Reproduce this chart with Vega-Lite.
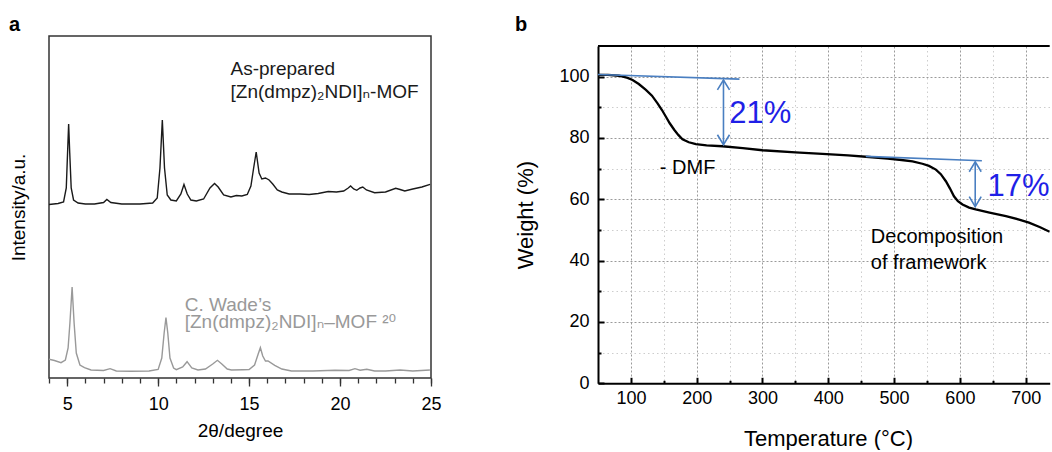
{
  "$schema": "https://vega.github.io/schema/vega-lite/v6.json",
  "padding": {"left": 8, "top": 14, "right": 0, "bottom": 0},
  "background": "white",
  "config": {
    "font": "Liberation Sans",
    "view": {"stroke": null},
    "axis": {"labelFont": "Liberation Sans", "titleFont": "Liberation Sans", "titleFontWeight": "normal", "labelColor": "black", "titleColor": "black", "labelOverlap": false, "labelBound": false}
  },
  "datasets": {
    "xrd": [
      {"sample": "As-prepared", "theta": 4.0, "intensity": 173.5},
      {"sample": "As-prepared", "theta": 4.5, "intensity": 174.5},
      {"sample": "As-prepared", "theta": 4.8, "intensity": 176},
      {"sample": "As-prepared", "theta": 4.95, "intensity": 190},
      {"sample": "As-prepared", "theta": 5.02, "intensity": 225},
      {"sample": "As-prepared", "theta": 5.08, "intensity": 254},
      {"sample": "As-prepared", "theta": 5.14, "intensity": 225},
      {"sample": "As-prepared", "theta": 5.22, "intensity": 190},
      {"sample": "As-prepared", "theta": 5.35, "intensity": 178},
      {"sample": "As-prepared", "theta": 5.6, "intensity": 175},
      {"sample": "As-prepared", "theta": 6.0, "intensity": 174},
      {"sample": "As-prepared", "theta": 6.5, "intensity": 174},
      {"sample": "As-prepared", "theta": 7.0, "intensity": 175.5},
      {"sample": "As-prepared", "theta": 7.18, "intensity": 178.5},
      {"sample": "As-prepared", "theta": 7.4, "intensity": 175.5},
      {"sample": "As-prepared", "theta": 8.0, "intensity": 174},
      {"sample": "As-prepared", "theta": 9.0, "intensity": 174},
      {"sample": "As-prepared", "theta": 9.7, "intensity": 175},
      {"sample": "As-prepared", "theta": 9.95, "intensity": 180},
      {"sample": "As-prepared", "theta": 10.1, "intensity": 210},
      {"sample": "As-prepared", "theta": 10.23, "intensity": 258},
      {"sample": "As-prepared", "theta": 10.35, "intensity": 210},
      {"sample": "As-prepared", "theta": 10.5, "intensity": 183},
      {"sample": "As-prepared", "theta": 10.7, "intensity": 178},
      {"sample": "As-prepared", "theta": 11.0, "intensity": 177},
      {"sample": "As-prepared", "theta": 11.25, "intensity": 184},
      {"sample": "As-prepared", "theta": 11.42, "intensity": 193.5},
      {"sample": "As-prepared", "theta": 11.6, "intensity": 184},
      {"sample": "As-prepared", "theta": 11.8, "intensity": 178},
      {"sample": "As-prepared", "theta": 12.1, "intensity": 177},
      {"sample": "As-prepared", "theta": 12.5, "intensity": 179},
      {"sample": "As-prepared", "theta": 12.85, "intensity": 190},
      {"sample": "As-prepared", "theta": 13.1, "intensity": 194.5},
      {"sample": "As-prepared", "theta": 13.3, "intensity": 191},
      {"sample": "As-prepared", "theta": 13.6, "intensity": 183},
      {"sample": "As-prepared", "theta": 14.0, "intensity": 181},
      {"sample": "As-prepared", "theta": 14.3, "intensity": 182.5},
      {"sample": "As-prepared", "theta": 14.6, "intensity": 182},
      {"sample": "As-prepared", "theta": 14.9, "intensity": 183.5},
      {"sample": "As-prepared", "theta": 15.1, "intensity": 192},
      {"sample": "As-prepared", "theta": 15.25, "intensity": 210},
      {"sample": "As-prepared", "theta": 15.39, "intensity": 226},
      {"sample": "As-prepared", "theta": 15.55, "intensity": 205},
      {"sample": "As-prepared", "theta": 15.7, "intensity": 199},
      {"sample": "As-prepared", "theta": 15.9, "intensity": 200},
      {"sample": "As-prepared", "theta": 16.1, "intensity": 198},
      {"sample": "As-prepared", "theta": 16.3, "intensity": 194},
      {"sample": "As-prepared", "theta": 16.55, "intensity": 188},
      {"sample": "As-prepared", "theta": 16.8, "intensity": 186},
      {"sample": "As-prepared", "theta": 17.2, "intensity": 184},
      {"sample": "As-prepared", "theta": 17.8, "intensity": 184},
      {"sample": "As-prepared", "theta": 18.3, "intensity": 183.5},
      {"sample": "As-prepared", "theta": 18.8, "intensity": 184.5},
      {"sample": "As-prepared", "theta": 19.35, "intensity": 186.5},
      {"sample": "As-prepared", "theta": 19.8, "intensity": 186},
      {"sample": "As-prepared", "theta": 20.2, "intensity": 187},
      {"sample": "As-prepared", "theta": 20.45, "intensity": 190},
      {"sample": "As-prepared", "theta": 20.58, "intensity": 192},
      {"sample": "As-prepared", "theta": 20.75, "intensity": 189},
      {"sample": "As-prepared", "theta": 20.92, "intensity": 187.7},
      {"sample": "As-prepared", "theta": 21.1, "intensity": 190},
      {"sample": "As-prepared", "theta": 21.25, "intensity": 191},
      {"sample": "As-prepared", "theta": 21.45, "intensity": 188},
      {"sample": "As-prepared", "theta": 21.9, "intensity": 185.3},
      {"sample": "As-prepared", "theta": 22.5, "intensity": 186},
      {"sample": "As-prepared", "theta": 23.06, "intensity": 189.7},
      {"sample": "As-prepared", "theta": 23.3, "intensity": 188.5},
      {"sample": "As-prepared", "theta": 23.56, "intensity": 187},
      {"sample": "As-prepared", "theta": 24.0, "intensity": 189},
      {"sample": "As-prepared", "theta": 24.5, "intensity": 191},
      {"sample": "As-prepared", "theta": 24.95, "intensity": 193.7},
      {"sample": "C. Wade", "theta": 4.0, "intensity": 18.7},
      {"sample": "C. Wade", "theta": 4.3, "intensity": 17.5},
      {"sample": "C. Wade", "theta": 4.66, "intensity": 15.3},
      {"sample": "C. Wade", "theta": 4.9, "intensity": 18},
      {"sample": "C. Wade", "theta": 5.05, "intensity": 30},
      {"sample": "C. Wade", "theta": 5.15, "intensity": 55},
      {"sample": "C. Wade", "theta": 5.27, "intensity": 91},
      {"sample": "C. Wade", "theta": 5.38, "intensity": 55},
      {"sample": "C. Wade", "theta": 5.5, "intensity": 25},
      {"sample": "C. Wade", "theta": 5.7, "intensity": 13},
      {"sample": "C. Wade", "theta": 5.95, "intensity": 10.3},
      {"sample": "C. Wade", "theta": 6.31, "intensity": 8},
      {"sample": "C. Wade", "theta": 7.0, "intensity": 7.5},
      {"sample": "C. Wade", "theta": 7.36, "intensity": 9.3},
      {"sample": "C. Wade", "theta": 7.7, "intensity": 7},
      {"sample": "C. Wade", "theta": 8.5, "intensity": 6.7},
      {"sample": "C. Wade", "theta": 9.5, "intensity": 7},
      {"sample": "C. Wade", "theta": 10.0, "intensity": 8.5},
      {"sample": "C. Wade", "theta": 10.2, "intensity": 20},
      {"sample": "C. Wade", "theta": 10.33, "intensity": 45},
      {"sample": "C. Wade", "theta": 10.43, "intensity": 60.3},
      {"sample": "C. Wade", "theta": 10.53, "intensity": 45},
      {"sample": "C. Wade", "theta": 10.65, "intensity": 20},
      {"sample": "C. Wade", "theta": 10.85, "intensity": 10},
      {"sample": "C. Wade", "theta": 11.0, "intensity": 8.3},
      {"sample": "C. Wade", "theta": 11.35, "intensity": 11},
      {"sample": "C. Wade", "theta": 11.59, "intensity": 16.3},
      {"sample": "C. Wade", "theta": 11.85, "intensity": 10},
      {"sample": "C. Wade", "theta": 12.19, "intensity": 8},
      {"sample": "C. Wade", "theta": 12.6, "intensity": 9},
      {"sample": "C. Wade", "theta": 13.0, "intensity": 14},
      {"sample": "C. Wade", "theta": 13.26, "intensity": 17.7},
      {"sample": "C. Wade", "theta": 13.5, "intensity": 14},
      {"sample": "C. Wade", "theta": 13.8, "intensity": 9},
      {"sample": "C. Wade", "theta": 14.03, "intensity": 8},
      {"sample": "C. Wade", "theta": 14.67, "intensity": 8.3},
      {"sample": "C. Wade", "theta": 15.0, "intensity": 8.5},
      {"sample": "C. Wade", "theta": 15.3, "intensity": 13},
      {"sample": "C. Wade", "theta": 15.5, "intensity": 24},
      {"sample": "C. Wade", "theta": 15.62, "intensity": 30.3},
      {"sample": "C. Wade", "theta": 15.75, "intensity": 22},
      {"sample": "C. Wade", "theta": 15.9, "intensity": 17},
      {"sample": "C. Wade", "theta": 16.04, "intensity": 17},
      {"sample": "C. Wade", "theta": 16.41, "intensity": 12.7},
      {"sample": "C. Wade", "theta": 16.8, "intensity": 9},
      {"sample": "C. Wade", "theta": 17.33, "intensity": 7},
      {"sample": "C. Wade", "theta": 18.5, "intensity": 7},
      {"sample": "C. Wade", "theta": 19.72, "intensity": 7.7},
      {"sample": "C. Wade", "theta": 20.5, "intensity": 7.5},
      {"sample": "C. Wade", "theta": 20.82, "intensity": 9.3},
      {"sample": "C. Wade", "theta": 21.1, "intensity": 7.8},
      {"sample": "C. Wade", "theta": 21.47, "intensity": 8.7},
      {"sample": "C. Wade", "theta": 21.9, "intensity": 7},
      {"sample": "C. Wade", "theta": 22.5, "intensity": 7},
      {"sample": "C. Wade", "theta": 23.3, "intensity": 8},
      {"sample": "C. Wade", "theta": 24.0, "intensity": 7},
      {"sample": "C. Wade", "theta": 24.94, "intensity": 8}
    ],
    "labelsA": [
      {"sample": "As-prepared", "theta": 13.98, "intensity": 302.7, "label": "As-prepared"},
      {"sample": "As-prepared", "theta": 13.98, "intensity": 280, "label": "[Zn(dmpz)₂NDI]ₙ-MOF"},
      {"sample": "C. Wade", "theta": 11.46, "intensity": 66.7, "label": "C. Wade’s"},
      {"sample": "C. Wade", "theta": 11.46, "intensity": 49.7, "label": "[Zn(dmpz)₂NDI]ₙ–MOF ²⁰"}
    ],
    "tga": [
      {"T": 50, "W": 100.6}, {"T": 65, "W": 100.6}, {"T": 82, "W": 100.3}, {"T": 95, "W": 99.6},
      {"T": 102.5, "W": 98.9}, {"T": 112, "W": 97.6}, {"T": 122.8, "W": 95.7}, {"T": 132, "W": 93.8},
      {"T": 140.5, "W": 91.3}, {"T": 147, "W": 89.2}, {"T": 153, "W": 87.0}, {"T": 159, "W": 84.8},
      {"T": 165.8, "W": 82.7}, {"T": 172, "W": 81.0}, {"T": 178.4, "W": 79.6}, {"T": 188, "W": 78.6},
      {"T": 198.8, "W": 78.0}, {"T": 215, "W": 77.6}, {"T": 239, "W": 77.3}, {"T": 270, "W": 76.7},
      {"T": 300, "W": 76.0}, {"T": 350, "W": 75.3}, {"T": 391, "W": 74.8}, {"T": 430, "W": 74.3},
      {"T": 462, "W": 73.8}, {"T": 490, "W": 73.3}, {"T": 508, "W": 72.9}, {"T": 528, "W": 72.4},
      {"T": 543, "W": 71.6}, {"T": 553, "W": 70.9}, {"T": 563.5, "W": 69.7}, {"T": 571, "W": 68.2},
      {"T": 578.7, "W": 65.9}, {"T": 585, "W": 63.5}, {"T": 591, "W": 61.0}, {"T": 597, "W": 59.4},
      {"T": 604, "W": 58.3}, {"T": 614, "W": 57.3}, {"T": 624, "W": 56.7}, {"T": 645, "W": 55.7},
      {"T": 670, "W": 54.5}, {"T": 690, "W": 53.4}, {"T": 705, "W": 52.4}, {"T": 722, "W": 50.9},
      {"T": 736.5, "W": 49.4}
    ],
    "guides": [
      {"seg": "t1", "i": 0, "T": 50, "W": 100.7}, {"seg": "t1", "i": 1, "T": 265, "W": 99.2},
      {"seg": "a1", "i": 0, "T": 240.7, "W": 98.9}, {"seg": "a1", "i": 1, "T": 240.7, "W": 77.8},
      {"seg": "h1", "i": 0, "T": 231.5, "W": 95.7}, {"seg": "h1", "i": 1, "T": 240.7, "W": 98.9}, {"seg": "h1", "i": 2, "T": 249.9, "W": 95.7},
      {"seg": "h2", "i": 0, "T": 231.5, "W": 81.05}, {"seg": "h2", "i": 1, "T": 240.7, "W": 77.8}, {"seg": "h2", "i": 2, "T": 249.9, "W": 81.05},
      {"seg": "t2", "i": 0, "T": 457, "W": 74.0}, {"seg": "t2", "i": 1, "T": 633.4, "W": 72.6},
      {"seg": "a2", "i": 0, "T": 623.3, "W": 72.2}, {"seg": "a2", "i": 1, "T": 623.3, "W": 57.6},
      {"seg": "h3", "i": 0, "T": 614.2, "W": 69.0}, {"seg": "h3", "i": 1, "T": 623.3, "W": 72.2}, {"seg": "h3", "i": 2, "T": 632.4, "W": 69.0},
      {"seg": "h4", "i": 0, "T": 614.2, "W": 60.85}, {"seg": "h4", "i": 1, "T": 623.3, "W": 57.6}, {"seg": "h4", "i": 2, "T": 632.4, "W": 60.85}
    ],
    "pctB": [
      {"T": 249.4, "W": 84.8, "label": "21%"},
      {"T": 642, "W": 61.2, "label": "17%"}
    ],
    "notesB": [
      {"T": 144, "W": 68.4, "label": "- DMF"},
      {"T": 464.7, "W": 45.6, "label": "Decomposition"},
      {"T": 464.7, "W": 37.2, "label": "of framework"}
    ]
  },
  "spacing": 72,
  "hconcat": [
    {
      "title": {"text": "a", "anchor": "start", "frame": "bounds", "fontSize": 20, "fontWeight": "bold", "font": "Liberation Sans", "baseline": "alphabetic", "offset": -15, "color": "black"},
      "width": 382,
      "height": 342,
      "view": {"stroke": "#333333", "strokeWidth": 1.5},
      "resolve": {"axis": {"x": "independent"}},
      "layer": [
        {
          "data": {"name": "xrd"},
          "mark": {"type": "line", "strokeWidth": 1.4, "clip": true},
          "encoding": {
            "x": {
              "field": "theta", "type": "quantitative",
              "scale": {"domain": [4, 25], "nice": false, "zero": false},
              "axis": {
                "orient": "bottom",
                "title": "2θ/degree", "titleFontSize": 19, "titlePadding": 8,
                "values": [5, 10, 15, 20, 25],
                "labelOverlap": false, "labelBound": false,
                "labelFlush": false, "labelFontSize": 18, "labelPadding": 9,
                "tickSize": 8, "tickColor": "#333333", "tickWidth": 1.3,
                "grid": false, "domain": false
              }
            },
            "y": {
              "field": "intensity", "type": "quantitative",
              "scale": {"domain": [0, 342], "nice": false},
              "axis": {"title": "Intensity/a.u.", "titleFontSize": 19, "titlePadding": 21, "labels": false, "ticks": false, "grid": false, "domain": false}
            },
            "color": {"field": "sample", "type": "nominal", "scale": {"domain": ["As-prepared", "C. Wade"], "range": ["#1a1a1a", "#999999"]}, "legend": null},
            "detail": {"field": "sample"}
          }
        },
        {
          "data": {"name": "labelsA"},
          "mark": {"type": "text", "align": "left", "baseline": "alphabetic", "fontSize": 19, "font": "Liberation Sans, DejaVu Sans, sans-serif"},
          "encoding": {
            "x": {
              "field": "theta", "type": "quantitative",
              "axis": {
                "orient": "bottom", "title": null, "labels": false,
                "values": [4,5,6,7,8,9,10,11,12,13,14,15,16,17,18,19,20,21,22,23,24,25],
                "tickSize": 5, "tickColor": "#333333", "tickWidth": 1.3,
                "grid": false, "domain": false
              }
            },
            "y": {"field": "intensity", "type": "quantitative"},
            "text": {"field": "label"},
            "color": {"field": "sample", "type": "nominal", "legend": null}
          }
        }
      ]
    },
    {
      "title": {"text": "b", "anchor": "start", "frame": "bounds", "fontSize": 20, "fontWeight": "bold", "font": "Liberation Sans", "baseline": "alphabetic", "offset": -15, "color": "black"},
      "spacing": 0,
      "vconcat": [
        {
          "width": 451.7,
          "height": 9,
          "data": {"values": []},
          "mark": "point",
          "encoding": {}
        },
        {
          "width": 451.7,
          "height": 337.3,
          "resolve": {"axis": {"x": "independent", "y": "independent"}},
          "layer": [
            {
              "data": {"name": "guides"},
              "mark": {"type": "line", "color": "#4a7fc1", "strokeWidth": 1.6, "opacity": 0},
              "encoding": {
                "x": {
                  "field": "T", "type": "quantitative",
                  "scale": {"domain": [50, 736.5], "nice": false, "zero": false},
                  "axis": {
                    "orient": "bottom", "title": null, "labels": false,
                    "values": [150, 250, 350, 450, 550, 650],
                    "tickSize": -3, "tickColor": "black", "tickWidth": 2,
                    "domain": false,
                    "grid": true, "gridColor": "#cdcdcd", "gridDash": [1.5, 3], "gridWidth": 1
                  }
                },
                "y": {
                  "field": "W", "type": "quantitative",
                  "scale": {"domain": [0, 110], "nice": false},
                  "axis": {
                    "orient": "left", "title": null, "labels": false,
                    "values": [10, 30, 50, 70, 90],
                    "tickSize": -3, "tickColor": "black", "tickWidth": 2,
                    "domain": false,
                    "grid": true, "gridColor": "#cdcdcd", "gridDash": [1.5, 3], "gridWidth": 1
                  }
                },
                "detail": {"field": "seg"},
                "order": {"field": "i"}
              }
            },
            {
              "data": {"name": "tga"},
              "mark": {"type": "line", "color": "black", "strokeWidth": 2.3, "clip": true},
              "encoding": {
                "x": {
                  "field": "T", "type": "quantitative",
                  "axis": {
                    "orient": "bottom",
                    "title": "Temperature (°C)", "titleFontSize": 22, "titlePadding": 21, "titleX": 230,
                    "values": [100, 200, 300, 400, 500, 600, 700],
                    "labelOverlap": false, "labelBound": false,
                    "labelFlush": false, "labelFontSize": 18, "labelPadding": 12,
                    "tickSize": -6, "tickColor": "black", "tickWidth": 2,
                    "domain": true, "domainColor": "black", "domainWidth": 2,
                    "grid": true, "gridColor": "#9a9a9a", "gridDash": [2, 2], "gridWidth": 1
                  }
                },
                "y": {
                  "field": "W", "type": "quantitative",
                  "axis": {
                    "orient": "left",
                    "title": "Weight (%)", "titleFontSize": 22, "titlePadding": 21,
                    "values": [0, 20, 40, 60, 80, 100],
                    "labelOverlap": false, "labelBound": false,
                    "labelFontSize": 18, "labelPadding": 15,
                    "tickSize": -6, "tickColor": "black", "tickWidth": 2,
                    "domain": true, "domainColor": "black", "domainWidth": 2,
                    "grid": true, "gridColor": "#9a9a9a", "gridDash": [2, 2], "gridWidth": 1
                  }
                }
              }
            },
            {
              "data": {"values": [{}]},
              "mark": {"type": "rule", "color": "black", "strokeWidth": 2},
              "encoding": {"y": {"datum": 110, "axis": null}}
            },
            {
              "data": {"name": "guides"},
              "mark": {"type": "line", "color": "#4a7fc1", "strokeWidth": 1.6},
              "encoding": {
                "x": {"field": "T", "type": "quantitative", "axis": null},
                "y": {"field": "W", "type": "quantitative", "axis": null},
                "detail": {"field": "seg"},
                "order": {"field": "i"}
              }
            },
            {
              "data": {"name": "pctB"},
              "mark": {"type": "text", "align": "left", "baseline": "alphabetic", "fontSize": 31, "font": "Liberation Sans", "color": "#1f1fe6"},
              "encoding": {
                "x": {"field": "T", "type": "quantitative", "axis": null},
                "y": {"field": "W", "type": "quantitative", "axis": null},
                "text": {"field": "label"}
              }
            },
            {
              "data": {"name": "notesB"},
              "mark": {"type": "text", "align": "left", "baseline": "alphabetic", "fontSize": 20, "font": "Liberation Sans", "color": "black"},
              "encoding": {
                "x": {"field": "T", "type": "quantitative", "axis": null},
                "y": {"field": "W", "type": "quantitative", "axis": null},
                "text": {"field": "label"}
              }
            }
          ]
        }
      ]
    }
  ]
}
